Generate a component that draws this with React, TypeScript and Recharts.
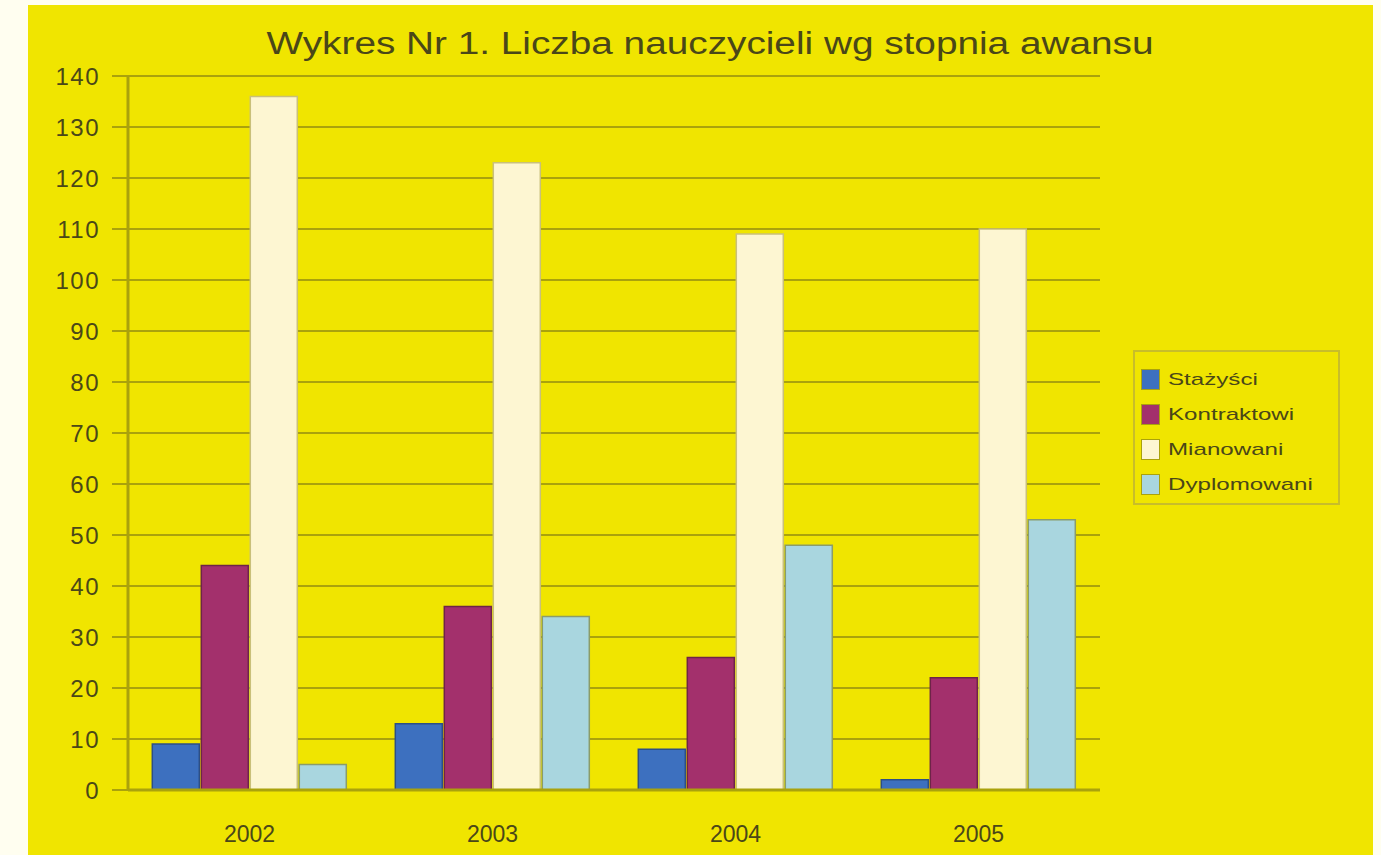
import { BarChart, Bar, CartesianGrid, XAxis, YAxis } from "recharts";

// ─── Data ─────────────────────────────────────────────────────────────────────

const years = ["2002", "2003", "2004", "2005"];
const stazysci = [9, 13, 8, 2];
const kontraktowi = [44, 36, 26, 22];
const mianowani = [136, 123, 109, 110];
const dyplomowani = [5, 34, 48, 53];
const yTicks = [0, 10, 20, 30, 40, 50, 60, 70, 80, 90, 100, 110, 120, 130, 140];

const series = [
  { key: "stazysci", name: "Stażyści", fill: "#3d70bf", stroke: "#2c4f86" },
  { key: "kontraktowi", name: "Kontraktowi", fill: "#a3306c", stroke: "#6e2448" },
  { key: "mianowani", name: "Mianowani", fill: "#fdf6d2", stroke: "#c9c07a" },
  { key: "dyplomowani", name: "Dyplomowani", fill: "#a9d6df", stroke: "#8a9c6a" },
];

const data = years.map((year, i) => ({
  year,
  stazysci: stazysci[i],
  kontraktowi: kontraktowi[i],
  mianowani: mianowani[i],
  dyplomowani: dyplomowani[i],
}));

const YELLOW = "#f0e500";
const GRID = "#aaa20c";
const TEXT = "#4a4718";
const FONT = "'Liberation Sans', Arial, sans-serif";

// ─── Legend ───────────────────────────────────────────────────────────────────

function LegendBox() {
  return (
    <div
      style={{
        position: "absolute",
        left: 1133,
        top: 350,
        border: `2px solid #c8bd2a`,
        width: 207,
        height: 155,
        boxSizing: "border-box",
        padding: "10px 0 0 6px",
        fontFamily: FONT,
        fontSize: 17,
        color: TEXT,
      }}
    >
      {series.map((s) => (
        <div key={s.key} style={{ display: "flex", alignItems: "center", height: 35 }}>
          <span
            style={{
              width: 17,
              height: 19,
              background: s.fill,
              border: `1px solid ${GRID}`,
              marginRight: 8,
              flexShrink: 0,
            }}
          />
          <span
            style={{
              display: "inline-block",
              transform: "scaleX(1.42)",
              transformOrigin: "left center",
            }}
          >
            {s.name}
          </span>
        </div>
      ))}
    </div>
  );
}

// ─── Component ────────────────────────────────────────────────────────────────

export default function App() {
  return (
    <div
      style={{
        position: "relative",
        width: 1381,
        height: 855,
        background: "#fffef0",
        overflow: "hidden",
      }}
    >
      <style>{"body{margin:0}"}</style>
      <div
        style={{
          position: "absolute",
          left: 28,
          top: 5,
          width: 1345,
          height: 850,
          background: YELLOW,
        }}
      />

      {/* Title */}
      <div
        style={{
          position: "absolute",
          left: 0,
          width: 1420,
          top: 26,
          textAlign: "center",
          fontFamily: FONT,
          fontSize: 31,
          color: TEXT,
          transform: "scaleX(1.25)",
          transformOrigin: "710px 0",
        }}
      >
        Wykres Nr 1. Liczba nauczycieli wg stopnia awansu
      </div>

      <div style={{ position: "absolute", left: 0, top: 0 }}>
        <BarChart
          width={1381}
          height={855}
          data={data}
          margin={{ top: 76, right: 281, left: 0, bottom: 0 }}
          barCategoryGap="10%"
          barGap={2}
        >
          <CartesianGrid vertical={false} stroke={GRID} strokeWidth={2} />
          <XAxis
            dataKey="year"
            height={65}
            axisLine={{ stroke: GRID, strokeWidth: 3 }}
            tickLine={false}
            tickMargin={30}
            tick={{ fontSize: 23, fill: TEXT, fontFamily: FONT }}
          />
          <YAxis
            width={128}
            domain={[0, 140]}
            ticks={yTicks}
            interval={0}
            axisLine={{ stroke: GRID, strokeWidth: 3 }}
            tickLine={{ stroke: GRID, strokeWidth: 2 }}
            tickSize={16}
            tickMargin={12}
            tick={{ fontSize: 24, fill: TEXT, fontFamily: FONT, letterSpacing: 1.5 }}
          />
          {series.map((s) => (
            <Bar
              key={s.key}
              dataKey={s.key}
              name={s.name}
              fill={s.fill}
              stroke={s.stroke}
              strokeWidth={1.5}
              isAnimationActive={false}
            />
          ))}
        </BarChart>
      </div>

      <LegendBox />
    </div>
  );
}
